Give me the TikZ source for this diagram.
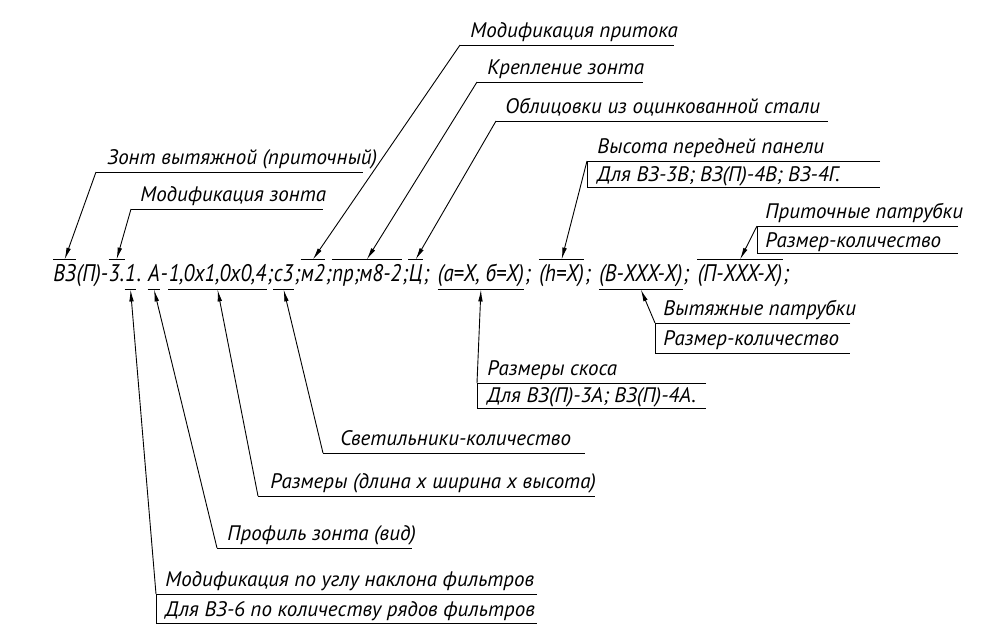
\documentclass[tikz,border=0pt]{standalone}
\usepackage{fontspec}
\setmainfont{PT Sans}
\newfontfamily\gostfont{PT Sans}[FakeStretch=0.87]
\usetikzlibrary{arrows.meta}

\begin{document}
\begin{tikzpicture}[x=1pt, y=-1pt, line width=0.9pt,
	lbl/.style={anchor=base west, inner sep=0pt, font=\fontsize{21}{25}\selectfont\itshape},
	code/.style={anchor=base west, inner sep=0pt, text height=21pt, text depth=8pt, font=\fontsize{24}{28}\selectfont\gostfont\itshape},
	ldr/.style={-{Latex[length=12pt, width=4.5pt]}}]
	\useasboundingbox (0, 0) rectangle (1000, 641);
	% Designation string, one node per marked part:
	\node[code] (vz) at (53, 281) {ВЗ};
	\node[code] (q1) at (vz.base east) {(П)-};
	\node[code] (n3) at (q1.base east) {3.};
	\node[code] (n1) at (n3.base east) {1};
	\node[code] (q2) at (n1.base east) {.\kern6pt};
	\node[code] (pa) at (q2.base east) {А};
	\node[code] (q3) at (pa.base east) {-};
	\node[code] (dim) at (q3.base east) {1,0х1,0х0,4};
	\node[code] (q4) at (dim.base east) {;};
	\node[code] (sv) at (q4.base east) {с3};
	\node[code] (q5) at (sv.base east) {;};
	\node[code] (mp) at (q5.base east) {м2};
	\node[code] (q6) at (mp.base east) {;};
	\node[code] (kr) at (q6.base east) {пр;м8-2};
	\node[code] (q7) at (kr.base east) {;};
	\node[code] (ob) at (q7.base east) {Ц};
	\node[code] (q8) at (ob.base east) {;\kern8pt};
	\node[code] (sk) at (q8.base east) {(а=X, б=X)};
	\node[code] (q9) at (sk.base east) {;\kern8pt};
	\node[code] (hp) at (q9.base east) {(h=X)};
	\node[code] (q10) at (hp.base east) {;\kern8pt};
	\node[code] (vt) at (q10.base east) {(В-XXX-X)};
	\node[code] (q11) at (vt.base east) {;\kern8pt};
	\node[code] (pt) at (q11.base east) {(П-XXX-X)};
	\node[code] (q12) at (pt.base east) {;};
	% Marks over and under it:
	\draw (vz.north west) -- (vz.north east);
	\draw (n3.north west) -- (n3.north east);
	\draw (mp.north west) -- (mp.north east);
	\draw (kr.north west) -- (kr.north east);
	\draw (ob.north west) -- (ob.north east);
	\draw (hp.north west) -- (hp.north east);
	\draw (pt.north west) -- (pt.north east);
	\draw (n1.south west) -- (n1.south east);
	\draw (pa.south west) -- (pa.south east);
	\draw (dim.south west) -- (dim.south east);
	\draw (sv.south west) -- (sv.south east);
	\draw (sk.south west) -- (sk.south east);
	\draw (vt.south west) -- (vt.south east);
	% Labels above:
	\coordinate (prtA) at (460, 45);
	\node[lbl] (prt) at (470, 37) {Модификация притока};
	\draw (prtA) -- (674, 45);
	\draw[ldr] (prtA) -- (mp.north);
	\coordinate (krpA) at (477, 82);
	\node[lbl] (krp) at (487, 74) {Крепление зонта};
	\draw (krpA) -- (643, 82);
	\draw[ldr] (krpA) -- (kr.north);
	\coordinate (oblA) at (496, 121);
	\node[lbl] (obl) at (505, 113) {Облицовки из оцинкованной стали};
	\draw (oblA) -- (828, 121);
	\draw[ldr] (oblA) -- (ob.north);
	\coordinate (pnlA) at (587, 161);
	\node[lbl] (pnl) at (597, 153) {Высота передней панели};
	\node[lbl] (pnl2) at (597, 181) {Для ВЗ-3В; ВЗ(П)-4В; ВЗ-4Г.};
	\draw (880, 161) -- (pnlA) -- (587, 187) -- (880, 187);
	\draw[ldr] (pnlA) -- (hp.north);
	\coordinate (zntA) at (96, 172);
	\node[lbl] (znt) at (107, 164) {Зонт вытяжной (приточный)};
	\draw (zntA) -- (363, 172);
	\draw[ldr] (zntA) -- (vz.north);
	\coordinate (mzA) at (131, 209);
	\node[lbl] (mz) at (140, 201) {Модификация зонта};
	\draw (mzA) -- (323, 209);
	\draw[ldr] (mzA) -- (n3.north);
	\coordinate (ppA) at (757, 226);
	\node[lbl] (pp) at (765, 218) {Приточные патрубки};
	\node[lbl] (pp2) at (765, 247) {Размер-количество};
	\draw (958, 226) -- (ppA) -- (757, 253) -- (958, 253);
	\draw[ldr] (ppA) -- (pt.north);
	% Labels below:
	\coordinate (vpA) at (655, 323);
	\node[lbl] (vpl) at (663, 315) {Вытяжные патрубки};
	\node[lbl] (vpl2) at (663, 345) {Размер-количество};
	\draw (850, 323) -- (vpA) -- (655, 353) -- (850, 353);
	\draw[ldr] (vpA) -- (vt.south);
	\coordinate (skA) at (477, 383);
	\node[lbl] (skl) at (487, 375) {Размеры скоса};
	\node[lbl] (skl2) at (487, 402) {Для ВЗ(П)-3А; ВЗ(П)-4А.};
	\draw (706, 383) -- (skA) -- (477, 408) -- (706, 408);
	\draw[ldr] (skA) -- (sk.south);
	\coordinate (svA) at (323, 453);
	\node[lbl] (svl) at (340, 445) {Светильники-количество};
	\draw (svA) -- (585, 453);
	\draw[ldr] (svA) -- (sv.south);
	\coordinate (rzA) at (258, 496);
	\node[lbl] (rz) at (270, 488) {Размеры (длина х ширина х высота)};
	\draw (rzA) -- (595, 496);
	\draw[ldr] (rzA) -- (dim.south);
	\coordinate (pfA) at (217, 548);
	\node[lbl] (pf) at (227, 540) {Профиль зонта (вид)};
	\draw (pfA) -- (412, 548);
	\draw[ldr] (pfA) -- (pa.south);
	\coordinate (flA) at (156, 594);
	\node[lbl] (fl) at (165, 586) {Модификация по углу наклона фильтров};
	\node[lbl] (fl2) at (165, 616) {Для ВЗ-6 по количеству рядов фильтров};
	\draw (537, 594) -- (flA) -- (156, 623) -- (537, 623);
	\draw[ldr] (flA) -- (n1.south);
\end{tikzpicture}
\end{document}
